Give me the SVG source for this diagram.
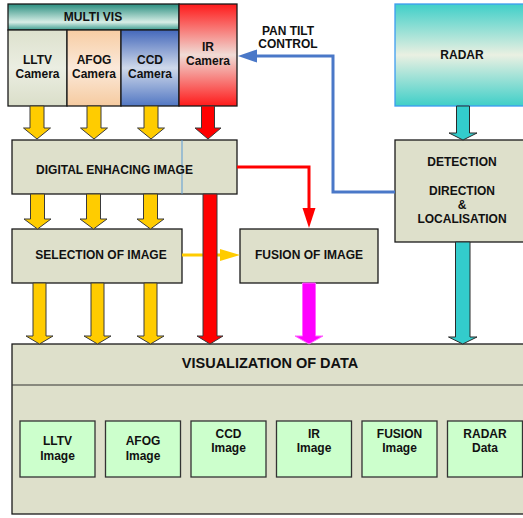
<svg xmlns="http://www.w3.org/2000/svg" width="523" height="518" viewBox="0 0 523 518">
<defs>
<linearGradient id="gTeal" x1="0" y1="0" x2="0" y2="1">
<stop offset="0" stop-color="#2a8e80"/><stop offset="0.7" stop-color="#d8eee6"/><stop offset="1" stop-color="#3a9c8e"/>
</linearGradient>
<linearGradient id="gLltv" x1="0" y1="0" x2="0" y2="1">
<stop offset="0" stop-color="#dde1cd"/><stop offset="0.5" stop-color="#ebeee2"/><stop offset="1" stop-color="#dadec9"/>
</linearGradient>
<linearGradient id="gAfog" x1="0" y1="0" x2="0" y2="1">
<stop offset="0" stop-color="#f7cda3"/><stop offset="0.5" stop-color="#fbe9da"/><stop offset="1" stop-color="#f6cba0"/>
</linearGradient>
<linearGradient id="gCcd" x1="0" y1="0" x2="0" y2="1">
<stop offset="0" stop-color="#4468bb"/><stop offset="0.5" stop-color="#cfd9ea"/><stop offset="1" stop-color="#5277c3"/>
</linearGradient>
<linearGradient id="gIr" x1="0" y1="0" x2="0" y2="1">
<stop offset="0" stop-color="#ff1a1a"/><stop offset="0.5" stop-color="#f0dcd6"/><stop offset="1" stop-color="#ff1a1a"/>
</linearGradient>
<linearGradient id="gRadar" x1="0" y1="0" x2="0" y2="1">
<stop offset="0" stop-color="#3fcfc8"/><stop offset="0.5" stop-color="#eaf0e2"/><stop offset="1" stop-color="#3fcfc8"/>
</linearGradient>
<style>
.box{fill:#dee0cb;stroke:#1a1a1a;stroke-width:1.3}
.cam{stroke:#1a1a1a;stroke-width:1.3}
.sub{fill:#ccffcc;stroke:#333;stroke-width:1.3}
text{font-family:"Liberation Sans",Arial,sans-serif;font-weight:bold;font-size:12px;fill:#111;text-anchor:middle}
.big{font-size:14.5px}
.ay{fill:#ffcc00;stroke:#3a3a3a;stroke-width:1}
.ar{fill:#ff0000;stroke:#3a3a3a;stroke-width:1}
.am{fill:#ff00ff;stroke:#ff66ff;stroke-width:1}
.at{fill:#33cccc;stroke:#2a2a2a;stroke-width:1}
</style>
</defs>
<rect width="523" height="518" fill="#ffffff"/>

<g id="multivis">
<rect x="8" y="4" width="171" height="26" fill="url(#gTeal)" class="cam"/>
<text x="93" y="21">MULTI VIS</text>
</g>
<g id="lltv-camera">
<rect x="8" y="30" width="59" height="76" fill="url(#gLltv)" class="cam"/>
<text x="37.5" y="64">LLTV</text><text x="37.5" y="78">Camera</text>
</g>
<g id="afog-camera">
<rect x="67" y="30" width="54" height="76" fill="url(#gAfog)" class="cam"/>
<text x="94" y="64">AFOG</text><text x="94" y="78">Camera</text>
</g>
<g id="ccd-camera">
<rect x="121" y="30" width="58" height="76" fill="url(#gCcd)" class="cam"/>
<text x="150" y="64">CCD</text><text x="150" y="78">Camera</text>
</g>
<g id="ir-camera">
<rect x="179" y="4" width="58" height="102" fill="url(#gIr)" class="cam"/>
<text x="208" y="51">IR</text><text x="208" y="65">Camera</text>
</g>
<g id="radar">
<rect x="395" y="4" width="131" height="102" fill="url(#gRadar)" stroke="#3d9cf0" stroke-width="1.3"/>
<text x="462" y="59">RADAR</text>
</g>
<g id="digital-enhancing">
<rect x="12" y="140" width="225" height="54" class="box"/>
<line x1="182" y1="140" x2="182" y2="194" stroke="#5b9bd5" stroke-width="1"/>
<text x="114.5" y="174">DIGITAL ENHACING IMAGE</text>
</g>
<g id="detection">
<rect x="395" y="140" width="131" height="102" class="box"/>
<text x="462" y="166">DETECTION</text>
<text x="462" y="195">DIRECTION</text>
<text x="462" y="209">&amp;</text>
<text x="462" y="223">LOCALISATION</text>
</g>
<g id="selection">
<rect x="12" y="229" width="170" height="54" class="box"/>
<text x="101" y="259">SELECTION OF IMAGE</text>
</g>
<g id="fusion">
<rect x="240" y="229" width="138" height="54" class="box"/>
<text x="309" y="259">FUSION OF IMAGE</text>
</g>
<g id="visualization">
<rect x="12" y="344" width="514" height="170" class="box"/>
<line x1="12" y1="385" x2="526" y2="385" stroke="#333" stroke-width="1.2"/>
<text class="big" x="270" y="368">VISUALIZATION OF DATA</text>
</g>
<g id="lltv-image">
<rect x="20" y="421" width="75" height="56" class="sub"/>
<text x="57.5" y="445">LLTV</text><text x="57.5" y="460">Image</text>
</g>
<g id="afog-image">
<rect x="105.5" y="421" width="75" height="56" class="sub"/>
<text x="143" y="445">AFOG</text><text x="143" y="460">Image</text>
</g>
<g id="ccd-image">
<rect x="191" y="421" width="75" height="56" class="sub"/>
<text x="228.5" y="438">CCD</text><text x="228.5" y="452">Image</text>
</g>
<g id="ir-image">
<rect x="276.5" y="421" width="75" height="56" class="sub"/>
<text x="314" y="438">IR</text><text x="314" y="452">Image</text>
</g>
<g id="fusion-image">
<rect x="362" y="421" width="75" height="56" class="sub"/>
<text x="399.5" y="438">FUSION</text><text x="399.5" y="452">Image</text>
</g>
<g id="radar-data">
<rect x="447.5" y="421" width="75" height="56" class="sub"/>
<text x="485" y="438">RADAR</text><text x="485" y="452">Data</text>
</g>

<g id="connectors">
<path class="ay" d="M30,106 h14 v22 h6.5 l-13.5,11 l-13.5,-11 h6.5 z"/>
<path class="ay" d="M87,106 h14 v22 h6.5 l-13.5,11 l-13.5,-11 h6.5 z"/>
<path class="ay" d="M144,106 h14 v22 h6.5 l-13.5,11 l-13.5,-11 h6.5 z"/>
<path class="ar" d="M201.5,106 h13 v22 h6.5 l-13,11 l-13,-11 h6.5 z"/>
<path class="ay" d="M30.5,194 h14 v25 h6.5 l-13.5,10 l-13.5,-10 h6.5 z"/>
<path class="ay" d="M86.5,194 h14 v25 h6.5 l-13.5,10 l-13.5,-10 h6.5 z"/>
<path class="ay" d="M143.5,194 h14 v25 h6.5 l-13.5,10 l-13.5,-10 h6.5 z"/>
<line x1="182" y1="255" x2="222" y2="255" stroke="#ffcc00" stroke-width="3"/>
<path d="M220,249 L240,255 L220,261 Z" fill="#ffcc00"/>
<path class="ay" d="M33,283 h13 v53 h7 l-13.5,8 l-13.5,-8 h7 z"/>
<path class="ay" d="M91,283 h13 v53 h7 l-13.5,8 l-13.5,-8 h7 z"/>
<path class="ay" d="M144,283 h13 v53 h7 l-13.5,8 l-13.5,-8 h7 z"/>
<path class="ar" d="M203,194 h14 v142 h6 l-13,8 l-13,-8 h6 z"/>
<polyline points="237,167 309,167 309,210" fill="none" stroke="#ff0000" stroke-width="3"/>
<path d="M302.5,208 L315.5,208 L309,228 Z" fill="#ff0000"/>
<path class="am" d="M302.5,283 h13 v53 h7.5 l-14,8 l-14,-8 h7.5 z"/>
<path class="at" d="M456.5,106 h13 v27 h7.5 l-14,7 l-14,-7 h7.5 z"/>
<path class="at" d="M455.5,242 h14.5 v95 h7 l-14.25,7 l-14.25,-7 h7 z"/>
<polyline points="395,192 333,192 333,56 255,56" fill="none" stroke="#4a78c8" stroke-width="3"/>
<path d="M257,49.5 L238,56 L257,62.5 Z" fill="#4a78c8"/>
<text x="288" y="35">PAN TILT</text>
<text x="288" y="48">CONTROL</text>
</g>
</svg>
